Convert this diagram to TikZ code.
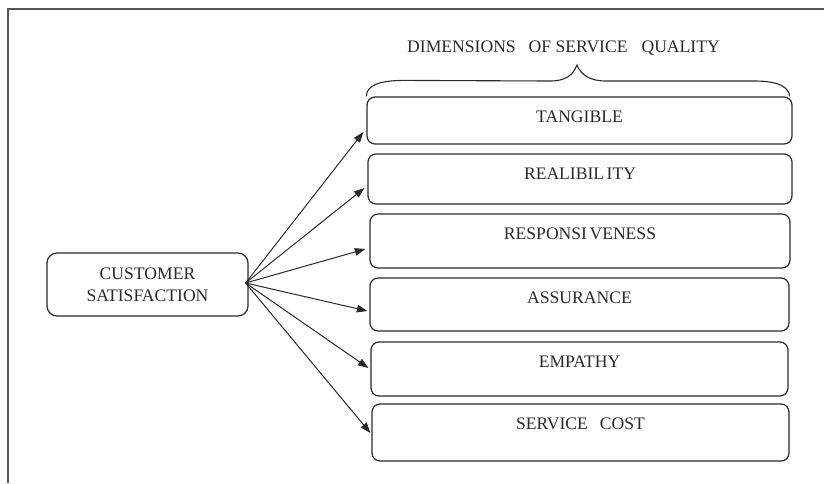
\documentclass[tikz,border=0pt]{standalone}
\usepackage{fontspec}
\setmainfont{Liberation Serif}
\usetikzlibrary{arrows.meta,calc}
\definecolor{ink}{HTML}{2A2A2A}
\definecolor{framegray}{HTML}{555555}
\begin{document}
\begin{tikzpicture}[x=1pt,y=-1pt,
  labelfont/.style={font=\fontsize{17.6}{22}\selectfont, text=ink},
  dimbox/.style={draw=ink, line width=1.2pt, rounded corners=8pt, inner sep=0pt},
  dimtext/.style={labelfont, inner sep=0pt},
  link/.style={draw=ink, line width=1pt, -{Triangle[length=10.5pt,width=7.5pt]}}
]
\useasboundingbox (0,0) rectangle (824,483);
\fill[white] (0,0) rectangle (824,483);

% outer frame (top and left edges)
\draw[framegray, line width=1.3pt] (824,9) -- (8,9) -- (8,483);

% left node
\node[dimbox, rounded corners=10pt, minimum width=201pt, minimum height=63pt,
      align=center, labelfont] (cs) at (147.5,284.5) {CUSTOMER\\SATISFACTION};

% dimension boxes
\node[dimbox, minimum width=425pt, minimum height=47pt] (t) at (579.5,120.5) {};
\node[dimbox, minimum width=424pt, minimum height=50pt] (r) at (580,179) {};
\node[dimbox, minimum width=420pt, minimum height=54pt] (p) at (580,241) {};
\node[dimbox, minimum width=419pt, minimum height=53pt] (a) at (579.5,304.5) {};
\node[dimbox, minimum width=417pt, minimum height=54pt] (e) at (579.5,369) {};
\node[dimbox, minimum width=417pt, minimum height=57pt] (s) at (580.5,432.5) {};

\node[dimtext] (tl) at ($(t.north)+(0,20)$) {TANGIBLE};
\node[dimtext] (rl) at ($(r.north)+(0,20)$) {REALIBIL\hspace{2.5pt}ITY};
\node[dimtext] (pl) at ($(p.north)+(0,20)$) {RESPONSI\hspace{2.5pt}VENESS};
\node[dimtext] (al) at ($(a.north)+(0,20)$) {ASSURANCE};
\node[dimtext] (el) at ($(e.north)+(0,20)$) {EMPATHY};
\node[dimtext] (sl) at ($(s.north)+(0,20)$) {SERVICE\hspace{12pt}COST};

% heading and brace
\node[dimtext] (head) at (563.5,48) {DIMENSIONS\hspace{13pt}OF SERVICE\hspace{14pt}QUALITY};
\draw[ink, line width=1.1pt]
  (t.north west) .. controls ($(t.north west)+(0,-11)$) and ($(t.north west)+(13,-16)$) .. ($(t.north west)+(38,-16)$)
  -- (550,81) .. controls (566,81) and (573,75) .. (577,65)
  .. controls (581,75) and (590,81) .. (606,81)
  -- (755,81) .. controls (780,81) and (789,88) .. ($(t.north east)+(-3,0)$);

% connectors
\coordinate (hub) at ($(cs.east)+(-3,-1.5)$);
\draw[link] (hub) -- ($(t.west)+(-3,11.5)$);
\draw[link] (hub) -- ($(r.west)+(-3,9)$);
\draw[link] (hub) -- ($(p.west)+(-4,8)$);
\draw[link] (hub) -- ($(a.west)+(-2,6.5)$);
\draw[link] (hub) -- ($(e.west)+(-2,-1)$);
\draw[link] (hub) -- ($(s.west)+(-1,0.5)$);
\end{tikzpicture}
\end{document}
